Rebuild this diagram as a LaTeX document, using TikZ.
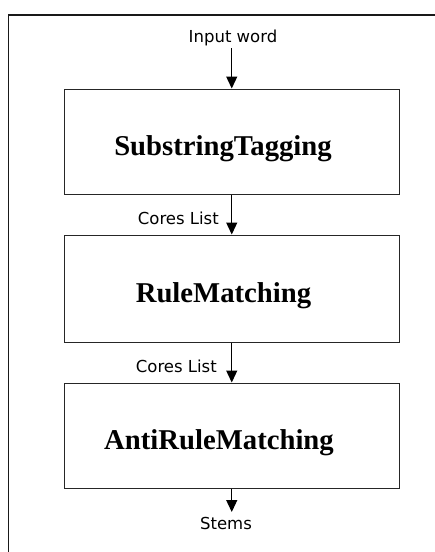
\documentclass[tikz,border=0pt]{standalone}
\usepackage{fontspec}
\setmainfont{Liberation Serif}
\setsansfont{DejaVu Sans}
\usetikzlibrary{arrows.meta}
\tikzset{
  stagebox/.style={draw=black!85, line width=1pt, minimum width=334.5pt, inner sep=0pt},
  stagetitle/.style={font=\fontsize{28.7}{30}\selectfont\bfseries, inner sep=0pt, anchor=base},
  flowlabel/.style={font=\sffamily\fontsize{16.5}{18}\selectfont, inner sep=0pt},
  flowarrow/.style={line width=1.3pt, -{Triangle[width=11pt,length=12pt]}},
  frameline/.style={line width=1.5pt, black!90}
}
\begin{document}
\begin{tikzpicture}[x=1pt,y=-1pt]
\useasboundingbox (0,0) rectangle (435,552);
\draw[frameline] (8.5,553) -- (8.5,15) -- (436,15);
\node[stagebox, minimum height=105pt] (b1) at (231.75,141.5) {};
\node[stagebox, minimum height=107pt] (b2) at (231.75,288.5) {};
\node[stagebox, minimum height=105pt] (b3) at (231.75,435.5) {};
\node[stagetitle] (t1) at (223,155) {SubstringTagging};
\node[stagetitle] (t2) at (223.5,302.5) {RuleMatching};
\node[stagetitle] (t3) at (219,449) {AntiRuleMatching};
\node[flowlabel] (in) at (233,37.5) {Input word};
\coordinate (inend) at (231.75,48);
\node[flowlabel, anchor=east] (c1) at (219,218) {Cores List};
\node[flowlabel, anchor=east] (c2) at (217,366) {Cores List};
\coordinate (outend) at (231.75,512);
\node[flowlabel] (st) at (226,523) {Stems};
\draw[flowarrow] (inend) -- (b1.north);
\draw[flowarrow] (b1.south) -- (b2.north);
\draw[flowarrow] (b2.south) -- (b3.north);
\draw[flowarrow] (b3.south) -- (outend);
\end{tikzpicture}
\end{document}
